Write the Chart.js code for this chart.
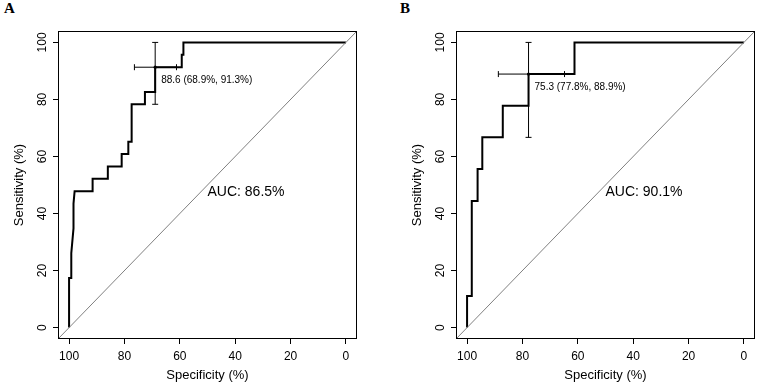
<!DOCTYPE html>
<html>
<head>
<meta charset="utf-8">
<script src="https://cdn.jsdelivr.net/npm/chart.js@4/dist/chart.umd.min.js"></script>
<style>
  body { margin: 0; background: #fff; width: 760px; height: 387px; position: relative; overflow: hidden; }
  .panel { position: absolute; top: 0; }
  .tag { position: absolute; top: 0; font: bold 15px "Liberation Serif", "Times New Roman", serif; color: #000; }
</style>
</head>
<body>
<div class="tag" style="left:4px">A</div>
<div class="tag" style="left:400px">B</div>
<canvas id="rocA" class="panel" style="left:0" width="362" height="387"></canvas>
<canvas id="rocB" class="panel" style="left:398px" width="362" height="387"></canvas>
<script>
// axis setup (percent, pROC style: x = specificity reversed)
var axisRange = [-4, 104];
var tickValues = [0, 20, 40, 60, 80, 100];

// panel A - curve vertices (specificity %, sensitivity %)
var specA = [100, 100, 99.2, 99.2, 98.4, 98.4, 98.0, 91.5, 91.5, 86.0, 86.0, 81.0, 81.0, 78.6, 78.6, 77.4, 77.4, 72.6, 72.6, 68.9, 68.9, 59.3, 59.3, 58.7, 58.7, 0];
var sensA = [0, 17.4, 17.4, 26.1, 34.8, 43.5, 47.8, 47.8, 52.2, 52.2, 56.5, 56.5, 60.9, 60.9, 65.2, 65.2, 78.3, 78.3, 82.6, 82.6, 91.3, 91.3, 95.7, 95.7, 100, 100];
var thrPointA = [68.9, 91.3];
var specCiA = [76.4, 61.2];
var sensCiA = [78.3, 100];
var thrLabelA = '88.6 (68.9%, 91.3%)';
var aucLabelA = 'AUC: 86.5%';

// panel B
var specB = [100, 100, 98.3, 98.3, 96.2, 96.2, 94.5, 94.5, 87.1, 87.1, 77.8, 77.8, 61.2, 61.2, 0];
var sensB = [0, 11.1, 11.1, 44.4, 44.4, 55.6, 55.6, 66.7, 66.7, 77.8, 77.8, 88.9, 88.9, 100, 100];
var thrPointB = [77.8, 88.9];
var specCiB = [88.7, 64.8];
var sensCiB = [66.7, 100];
var thrLabelB = '75.3 (77.8%, 88.9%)';
var aucLabelB = 'AUC: 90.1%';

var FONT = '"Liberation Sans", Arial, Helvetica, sans-serif';

// box around the plot region + the two text labels
var rocDecor = {
  id: 'rocDecor',
  afterDatasetsDraw: function(chart, args, opts) {
    var ctx = chart.ctx, a = chart.chartArea;
    var xs = chart.scales.x, ys = chart.scales.y;
    ctx.save();
    ctx.strokeStyle = '#000';
    ctx.lineWidth = 1;
    ctx.strokeRect(Math.round(a.left) + 0.5, Math.round(a.top) + 0.5,
                   Math.round(a.right - a.left) - 1, Math.round(a.bottom - a.top) - 1);

    ctx.fillStyle = '#000';
    ctx.textAlign = 'left';
    ctx.textBaseline = 'middle';
    ctx.font = '10px ' + FONT;
    ctx.fillText(opts.thrLabel, xs.getPixelForValue(opts.thrPoint[0]) + 6,
                 ys.getPixelForValue(opts.thrPoint[1]) + 13);
    ctx.font = '14px ' + FONT;
    ctx.fillText(opts.aucLabel, xs.getPixelForValue(opts.aucAt[0]),
                 ys.getPixelForValue(opts.aucAt[1]) + 7);
    ctx.restore();
  }
};

function pts(xv, yv) {
  return xv.map(function(x, i) { return {x: x, y: yv[i]}; });
}

function setTicks(scale) {
  scale.ticks = tickValues.map(function(v) { return {value: v}; });
}

function makeRoc(id, spec, sens, thrPoint, specCi, sensCi, thrLabel, aucLabel) {
  new Chart(document.getElementById(id), {
    type: 'line',
    data: {
      datasets: [
        { // chance line
          data: pts([axisRange[1], axisRange[0]], [axisRange[0], axisRange[1]]),
          borderColor: '#808080', borderWidth: 1, pointRadius: 0
        },
        { // ROC curve
          data: pts(spec, sens),
          borderColor: '#000', borderWidth: 2, pointRadius: 0,
          borderJoinStyle: 'miter', borderCapStyle: 'butt'
        },
        { // specificity CI
          data: pts(specCi, [thrPoint[1], thrPoint[1]]),
          borderColor: '#000', borderWidth: 1,
          pointStyle: 'line', pointRotation: 90, pointRadius: 3,
          pointBorderColor: '#000', pointBorderWidth: 1
        },
        { // sensitivity CI
          data: pts([thrPoint[0], thrPoint[0]], sensCi),
          borderColor: '#000', borderWidth: 1,
          pointStyle: 'line', pointRotation: 0, pointRadius: 3,
          pointBorderColor: '#000', pointBorderWidth: 1
        },
        { // best threshold
          data: pts([thrPoint[0]], [thrPoint[1]]),
          showLine: false, pointRadius: 1.6,
          pointBackgroundColor: '#000', pointBorderColor: '#000', pointBorderWidth: 0
        }
      ]
    },
    options: {
      responsive: false,
      animation: false,
      events: [],
      parsing: false,
      layout: { padding: { left: 0, top: 31, right: 3, bottom: 0 } },
      plugins: {
        legend: { display: false },
        tooltip: { enabled: false },
        rocDecor: { thrPoint: thrPoint, thrLabel: thrLabel, aucLabel: aucLabel, aucAt: [50, 50] }
      },
      scales: {
        x: {
          type: 'linear', reverse: true,
          min: axisRange[0], max: axisRange[1],
          afterBuildTicks: setTicks,
          afterFit: function(s) { s.height = 48; },
          border: { display: false },
          grid: { drawOnChartArea: false, drawTicks: true, tickLength: 5, color: '#000', lineWidth: 1 },
          ticks: { color: '#000', font: { family: FONT, size: 12 }, padding: 5, maxRotation: 0, autoSkip: false },
          title: { display: true, text: 'Specificity (%)', color: '#000',
                   font: { family: FONT, size: 13 }, padding: { top: 0, bottom: 3.5 } }
        },
        y: {
          type: 'linear',
          min: axisRange[0], max: axisRange[1],
          afterBuildTicks: setTicks,
          afterFit: function(s) { s.width = 58; },
          border: { display: false },
          grid: { drawOnChartArea: false, drawTicks: true, tickLength: 5, color: '#000', lineWidth: 1 },
          ticks: { color: '#000', font: { family: FONT, size: 12 }, padding: 0,
                   minRotation: 90, maxRotation: 90, crossAlign: 'center', autoSkip: false },
          title: { display: true, text: 'Sensitivity (%)', color: '#000',
                   font: { family: FONT, size: 13 }, padding: { top: 12, bottom: 0 } }
        }
      }
    },
    plugins: [rocDecor]
  });
}

makeRoc('rocA', specA, sensA, thrPointA, specCiA, sensCiA, thrLabelA, aucLabelA);
makeRoc('rocB', specB, sensB, thrPointB, specCiB, sensCiB, thrLabelB, aucLabelB);
</script>
</body>
</html>
